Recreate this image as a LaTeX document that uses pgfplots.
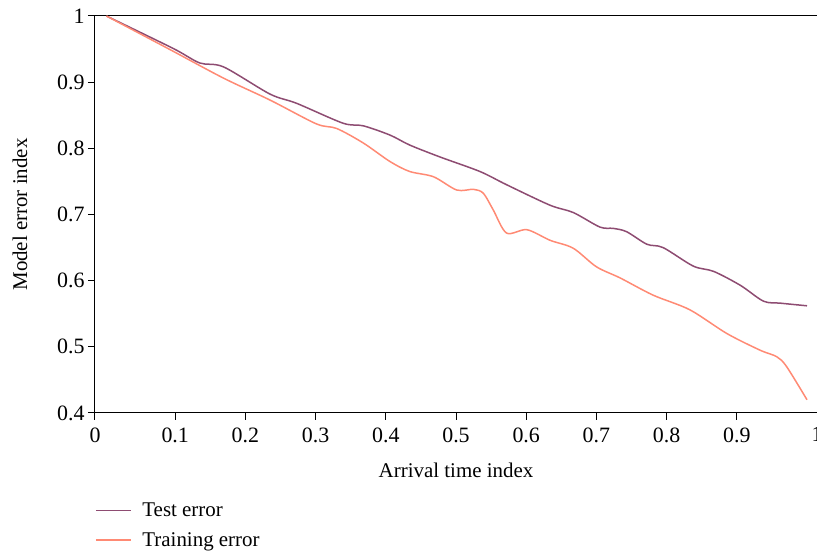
\documentclass[border=0pt]{standalone}
\usepackage{pgfplots}
\pgfplotsset{compat=1.18}
\usepackage{fontspec}
\setmainfont{Liberation Serif}

\definecolor{testcol}{RGB}{142,76,114}
\definecolor{traincol}{RGB}{255,138,116}

\begin{document}
\begin{tikzpicture}
\begin{axis}[
  scale only axis,
  width=722bp, height=397bp,
  xmin=-0.01425, xmax=1.01425,
  ymin=0.4, ymax=1,
  axis lines=left,
  axis line style={-, line width=1bp},
  xtick={-0.01425,0.1,0.2,0.3,0.4,0.5,0.6,0.7,0.8,0.9,1.01425},
  xticklabels={0,0.1,0.2,0.3,0.4,0.5,0.6,0.7,0.8,0.9,1},
  ytick={0.4,0.5,0.6,0.7,0.8,0.9,1},
  yticklabels={0.4,0.5,0.6,0.7,0.8,0.9,1},
  tick align=outside,
  major tick length=7bp,
  tick style={black, line width=1bp},
  ticklabel style={font=\fontsize{22}{26}\selectfont},
  xticklabel style={yshift=-4bp},
  /pgf/number format/assume math mode=true,
  xlabel={Arrival time index},
  ylabel={Model error index},
  label style={font=\fontsize{21}{25}\selectfont},
  xlabel style={at={(axis description cs:0.5,-0.1436)}, anchor=center},
  ylabel style={at={(axis description cs:-0.1039,0.5)}, anchor=center, rotate=0},
  legend style={at={(0,-0.2217)}, anchor=north west, draw=none, fill=none,
    inner sep=0pt, font=\fontsize{21}{25}\selectfont, row sep=10bp,
    /tikz/every odd column/.append style={column sep=9bp}},
  legend cell align=left,
  legend image code/.code={\draw[#1, line width=1.2bp] (0bp,0bp) -- (35bp,0bp);},
]
% frame line along the top of the plot area
\draw[line width=1bp] (rel axis cs:0,1) -- (rel axis cs:1,1);

\addplot[testcol, line width=1.5bp, smooth] coordinates {
  (0.002,1.000) (0.097,0.951) (0.135,0.929) (0.169,0.923) (0.235,0.882)
  (0.273,0.868) (0.339,0.838) (0.368,0.834) (0.406,0.820) (0.434,0.805)
  (0.477,0.787) (0.534,0.765) (0.572,0.745) (0.634,0.714) (0.667,0.703)
  (0.705,0.681) (0.724,0.679) (0.743,0.674) (0.772,0.655) (0.795,0.650)
  (0.838,0.622) (0.867,0.614) (0.905,0.593) (0.938,0.569) (0.962,0.566)
  (1.000,0.562)
};
\addlegendentry{Test error}

\addplot[traincol, line width=1.5bp, smooth] coordinates {
  (0.002,1.000) (0.093,0.949) (0.169,0.906) (0.235,0.873) (0.301,0.837)
  (0.330,0.830) (0.368,0.808) (0.406,0.780) (0.434,0.765) (0.468,0.757)
  (0.501,0.737) (0.525,0.738) (0.539,0.732) (0.553,0.707) (0.572,0.672)
  (0.601,0.677) (0.634,0.661) (0.667,0.649) (0.700,0.621) (0.734,0.604)
  (0.781,0.578) (0.833,0.556) (0.886,0.520) (0.933,0.495) (0.957,0.485)
  (0.971,0.470) (1.000,0.420)
};
\addlegendentry{Training error}
\end{axis}
\pgfresetboundingbox
\path[use as bounding box] ([xshift=-95bp,yshift=-140bp]current axis.south west)
  rectangle ([yshift=16bp]current axis.north east);
\end{tikzpicture}
\end{document}
